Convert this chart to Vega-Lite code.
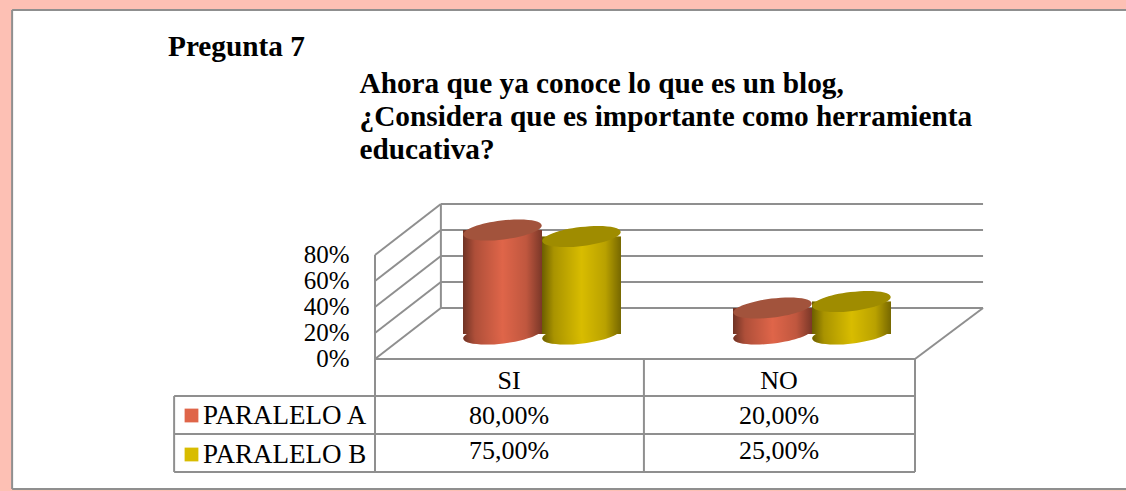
{
"$schema":"https://vega.github.io/schema/vega-lite/v6.json",
"autosize":"none","width":1114,"height":479,
"padding":{"left":12,"top":10,"right":0,"bottom":2},
"background":"#fdc0b4",
"view":{"fill":"white","stroke":null},
"title":{"text":"Pregunta 7","anchor":"start","frame":"group","dx":156,"offset":-56,"font":"Liberation Serif","fontSize":29.3,"fontWeight":"bold","color":"black"},
"datasets":{
"lines":[
{"id":"f1","x":-0.672,"v":268.5},{"id":"f1","x":1.391,"v":268.5},
{"id":"f2","x":-0.672,"v":268.5},{"id":"f2","x":-0.672,"v":-100},
{"id":"f3","x":-0.672,"v":-100},{"id":"f3","x":1.391,"v":-100},
{"id":"b0","x":0.122,"v":39.2},{"id":"b0","x":1.126,"v":39.2},
{"id":"b20","x":0.122,"v":59.2},{"id":"b20","x":1.126,"v":59.2},
{"id":"b40","x":0.122,"v":79.2},{"id":"b40","x":1.126,"v":79.2},
{"id":"b60","x":0.122,"v":99.2},{"id":"b60","x":1.126,"v":99.2},
{"id":"b80","x":0.122,"v":119.2},{"id":"b80","x":1.126,"v":119.2},
{"id":"d0","x":0,"v":0},{"id":"d0","x":0.122,"v":39.2},
{"id":"d20","x":0,"v":20},{"id":"d20","x":0.122,"v":59.2},
{"id":"d40","x":0,"v":40},{"id":"d40","x":0.122,"v":79.2},
{"id":"d60","x":0,"v":60},{"id":"d60","x":0.122,"v":99.2},
{"id":"d80","x":0,"v":80},{"id":"d80","x":0.122,"v":119.2},
{"id":"wl","x":0,"v":0},{"id":"wl","x":0,"v":80},
{"id":"wb","x":0.122,"v":39.2},{"id":"wb","x":0.122,"v":119.2},
{"id":"fl","x":0,"v":0},{"id":"fl","x":1,"v":0},
{"id":"fr","x":1,"v":0},{"id":"fr","x":1.126,"v":39.2},
{"id":"t1","x":-0.372,"v":-28.5},{"id":"t1","x":1,"v":-28.5},
{"id":"t2","x":-0.372,"v":-57.7},{"id":"t2","x":1,"v":-57.7},
{"id":"t3","x":-0.372,"v":-86.9},{"id":"t3","x":1,"v":-86.9},
{"id":"v0","x":-0.372,"v":-28.5},{"id":"v0","x":-0.372,"v":-86.9},
{"id":"v1","x":0,"v":0},{"id":"v1","x":0,"v":-86.9},
{"id":"v2","x":0.498,"v":0},{"id":"v2","x":0.498,"v":-86.9},
{"id":"v3","x":1,"v":0},{"id":"v3","x":1,"v":-86.9}
],
"bars":[
{"cat":"SI","serie":"PARALELO A","valor":80},
{"cat":"SI","serie":"PARALELO B","valor":75},
{"cat":"NO","serie":"PARALELO A","valor":20},
{"cat":"NO","serie":"PARALELO B","valor":25}
],
"tabla":[
{"col":"SI","fila":"cabecera","txt":"SI"},
{"col":"NO","fila":"cabecera","txt":"NO"},
{"col":"SI","fila":"PARALELO A","txt":"80,00%"},
{"col":"NO","fila":"PARALELO A","txt":"20,00%"},
{"col":"SI","fila":"PARALELO B","txt":"75,00%"},
{"col":"NO","fila":"PARALELO B","txt":"25,00%"}
]
},
"resolve":{"scale":{"x":"independent","y":"independent"},"axis":{"x":"independent","y":"independent"}},
"layer":[
{"data":{"name":"lines"},
 "mark":{"type":"line","color":"#8f8f8f","strokeWidth":2,"clip":false},
 "encoding":{
  "x":{"field":"x","type":"quantitative","scale":{"domain":[0,1],"range":[363,903],"nice":false,"zero":false,"clamp":false},
   "axis":{"orient":"top","labels":false,"ticks":false,"domain":false,"grid":false,"values":[],
    "title":["Ahora que ya conoce lo que es un blog,","¿Considera que es importante como herramienta","educativa?"],
    "titleFont":"Liberation Serif","titleFontSize":29.3,"titleFontWeight":"bold","titleColor":"black","titleAlign":"left","titleBaseline":"alphabetic","titleAngle":0,"titleX":347,"titleY":82,"titleLineHeight":33}},
  "y":{"field":"v","type":"quantitative","scale":{"domain":[0,80],"range":[349,245],"nice":false,"zero":false},
   "axis":{"orient":"left","offset":-363,"values":[0,20,40,60,80],"format":".0f","labelExpr":"datum.label+'%'","title":null,"domain":false,"ticks":false,"grid":false,"labelPadding":26,"labelOffset":-1,"labelFont":"Liberation Serif","labelFontSize":25,"labelColor":"black"}},
  "detail":{"field":"id"}
 }},
{"data":{"name":"bars"},
 "encoding":{
  "x":{"field":"cat","type":"nominal","sort":["SI","NO"],"scale":{"type":"band","domain":["SI","NO"],"range":[395,935],"paddingInner":0,"paddingOuter":0},"axis":null},
  "xOffset":{"field":"serie","type":"nominal","scale":{"type":"band","domain":["PARALELO A","PARALELO B"],"paddingInner":0,"paddingOuter":0.709}},
  "y":{"field":"valor","type":"quantitative","scale":{"domain":[0,80],"range":[324,220],"nice":false},"axis":null}
 },
 "layer":[
  {"mark":{"type":"point","filled":true,"opacity":1,"size":6241,"angle":-7,"shape":"M-1,0 A1,0.24 0 1,1 1,0 A1,0.24 0 1,1 -1,0 Z"},
   "encoding":{"y":{"datum":0,"type":"quantitative"},"color":{"field":"serie","type":"nominal","scale":{"domain":["PARALELO A","PARALELO B"],"range":["#df6549","#d8bc00"]},
    "legend":{"orient":"none","legendX":166,"legendY":392,"title":null,"symbolType":"square","symbolSize":190,"symbolOpacity":1,"rowPadding":11,"labelFont":"Liberation Serif","labelFontSize":27,"labelColor":"black","labelOffset":-2,"labelLimit":300}}}},
  {"mark":{"type":"point","filled":true,"opacity":1,"size":6241,"angle":-7,"shape":"M-1,0 A1,0.24 0 1,1 1,0 A1,0.24 0 1,1 -1,0 Z","fill":{"gradient":"linear","x1":0,"x2":1,"y1":0,"y2":0,"stops":[{"offset":0,"color":"rgba(0,0,0,0.5)"},{"offset":0.15,"color":"rgba(0,0,0,0.22)"},{"offset":0.5,"color":"rgba(0,0,0,0)"},{"offset":0.8,"color":"rgba(0,0,0,0.14)"},{"offset":1,"color":"rgba(0,0,0,0.45)"}]}},
   "encoding":{"y":{"datum":0,"type":"quantitative"}}},
  {"mark":{"type":"bar"},
   "encoding":{"color":{"field":"serie","type":"nominal","scale":{"domain":["PARALELO A","PARALELO B"],"range":["#df6549","#d8bc00"]}}}},
  {"mark":{"type":"bar","fill":{"gradient":"linear","x1":0,"x2":1,"y1":0,"y2":0,"stops":[{"offset":0,"color":"rgba(0,0,0,0.5)"},{"offset":0.15,"color":"rgba(0,0,0,0.22)"},{"offset":0.5,"color":"rgba(0,0,0,0)"},{"offset":0.8,"color":"rgba(0,0,0,0.14)"},{"offset":1,"color":"rgba(0,0,0,0.45)"}]}}},
  {"mark":{"type":"point","filled":true,"opacity":1,"size":6241,"angle":-7,"shape":"M-1,0 A1,0.24 0 1,1 1,0 A1,0.24 0 1,1 -1,0 Z"},
   "encoding":{"fill":{"field":"serie","type":"nominal","legend":null,"scale":{"domain":["PARALELO A","PARALELO B"],"range":["#a2533c","#9f8c00"]}}}}
 ]},
{"data":{"name":"tabla"},
 "mark":{"type":"text","font":"Liberation Serif","fontSize":26,"color":"black","baseline":"middle","align":"center"},
 "encoding":{
  "x":{"field":"col","type":"nominal","sort":["SI","NO"],"scale":{"type":"band","domain":["SI","NO"],"range":[362,902]},"axis":null},
  "y":{"field":"fila","type":"nominal","scale":{"type":"band","domain":["cabecera","PARALELO A","PARALELO B"],"range":[353,459]},"axis":null},
  "text":{"field":"txt"}
 }}
]
}
